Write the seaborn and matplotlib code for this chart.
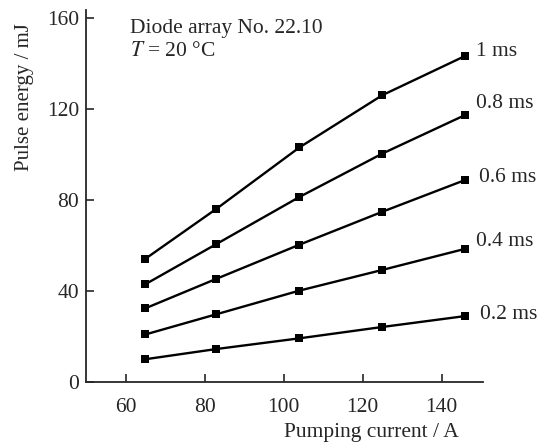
import numpy as np
import pandas as pd
import seaborn as sns
import matplotlib.pyplot as plt

# pumping current (A) and pulse energy (mJ) for each pulse duration
current = [65, 83, 104, 125, 146]
durations = ['1 ms', '0.8 ms', '0.6 ms', '0.4 ms', '0.2 ms']
e_1ms = [54.0, 76.0, 103.0, 126.0, 143.3]
e_08ms = [42.8, 60.5, 81.2, 100.3, 117.3]
e_06ms = [32.2, 45.2, 60.2, 74.7, 88.7]
e_04ms = [20.7, 29.6, 40.0, 49.1, 58.4]
e_02ms = [9.8, 14.3, 19.0, 24.0, 28.8]
energies = [e_1ms, e_08ms, e_06ms, e_04ms, e_02ms]

df = pd.concat([pd.DataFrame({'current': current, 'energy': e, 'duration': d})
                for d, e in zip(durations, energies)], ignore_index=True)

sns.set_style('ticks')
plt.rcParams['font.family'] = ['Liberation Serif', 'DejaVu Serif']
plt.rcParams['mathtext.fontset'] = 'stix'
plt.rcParams['axes.linewidth'] = 1.3

fig = plt.figure(figsize=(5.38, 4.46), dpi=100)
ax = fig.add_axes([0.16, 0.1446, 0.7378, 0.833])

sns.lineplot(data=df, x='current', y='energy', hue='duration', hue_order=durations,
             palette=['black'] * len(durations), marker='s', markersize=5.5,
             markeredgewidth=0, linewidth=1.7, sort=False, legend=False, ax=ax)

# label offsets in pixels (dx, dy up) from the last point of each curve
label_off = [(10.6, 4.3), (10.3, 11), (13.3, 2), (10.3, 7.3), (15, 1.7)]
for d, e, (dx, dy) in zip(durations, energies, label_off):
    ax.annotate(d, xy=(current[-1], e[-1]), xytext=(dx * 0.72, dy * 0.72),
                textcoords='offset points', ha='left', va='center', fontsize=15.5)

ax.text(0.111, 0.95, 'Diode array No. 22.10', transform=ax.transAxes,
        fontsize=15.5, va='center', ha='left')
ax.text(0.111, 0.888, r'$T$ = 20 °C', transform=ax.transAxes,
        fontsize=15.5, va='center', ha='left')

ax.set_xlim(50, 150.5)
ax.set_ylim(0, 163.5)
ax.set_xticks([60, 80, 100, 120, 140])
ax.set_yticks([0, 40, 80, 120, 160])
ax.tick_params(direction='in', length=6, width=1.2, labelsize=15.5)
ax.tick_params(axis='x', pad=12)
ax.tick_params(axis='y', pad=5)
sns.despine(ax=ax)

ax.set_xlabel('Pumping current / A', fontsize=15.5)
ax.set_ylabel('Pulse energy / mJ', fontsize=15)
ax.xaxis.set_label_coords(0.719, -0.111)
ax.yaxis.set_label_coords(-0.13, 0.766)

fig.savefig('out.png', dpi=100)
